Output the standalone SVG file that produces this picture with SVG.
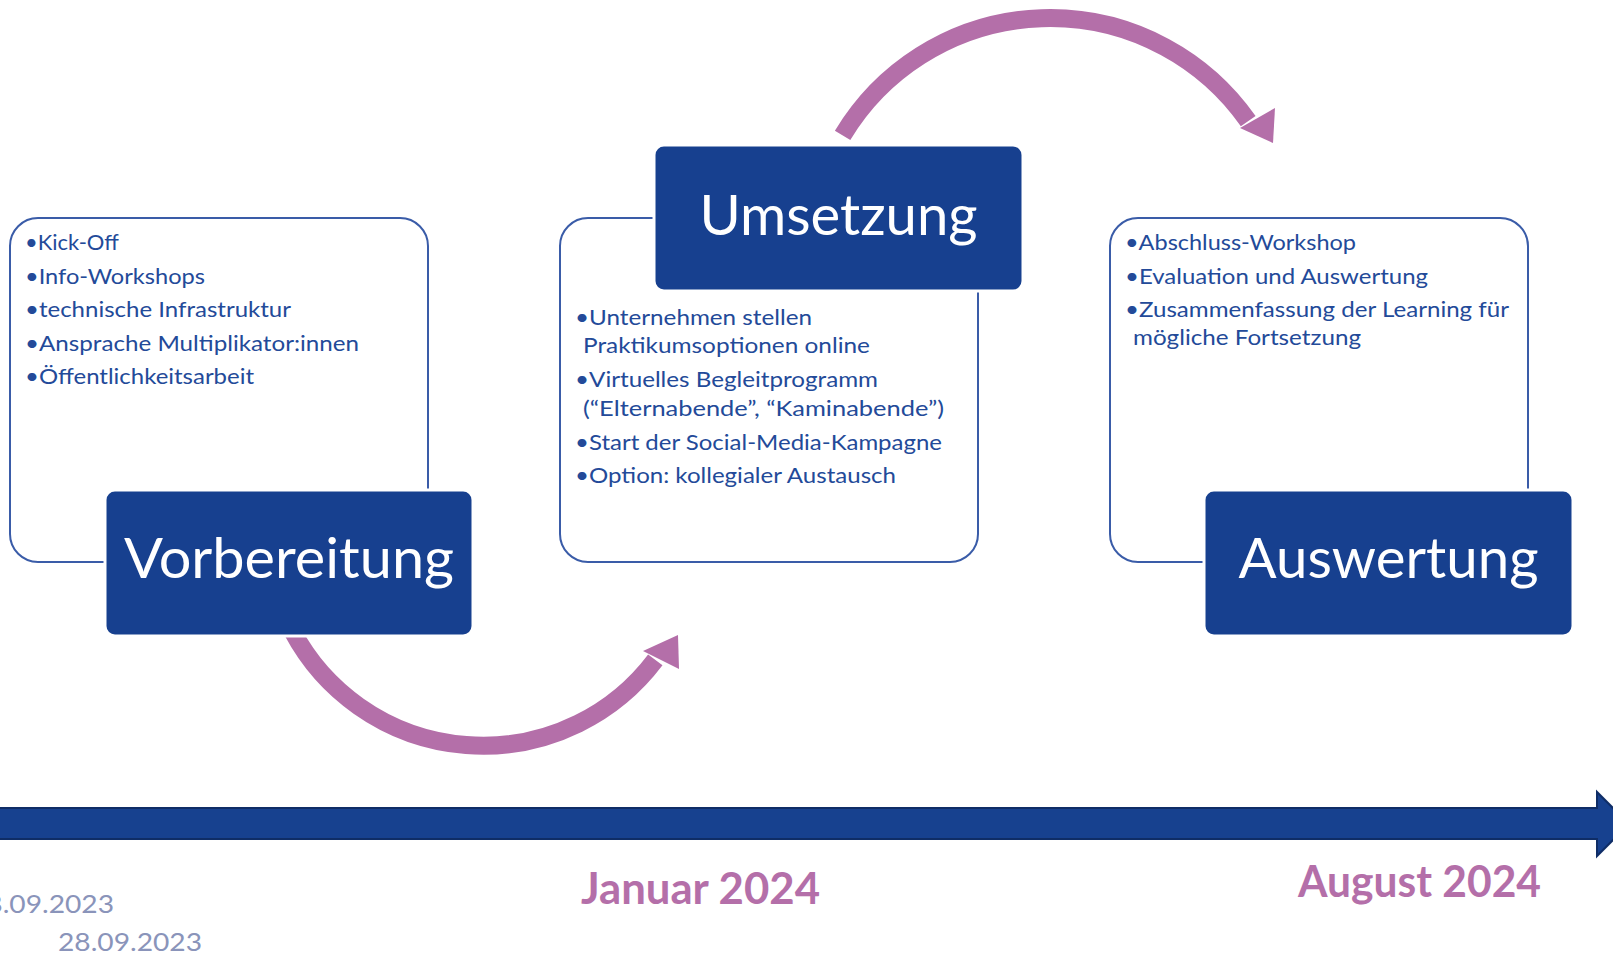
<svg xmlns="http://www.w3.org/2000/svg" width="1613" height="956" viewBox="0 0 1613 956">
<defs>
<style>
.outline{fill:#ffffff;stroke:#3a5ca8;stroke-width:2}
.head{fill:#17408f;stroke:#ffffff;stroke-width:3}
.htxt{font-family:Lato,"Open Sans",sans-serif;font-size:56px;fill:#ffffff;text-anchor:middle}
.btxt{font-family:Lato,"Open Sans",sans-serif;font-size:22px;fill:#234a99}
.arc{fill:none;stroke:#b46fa9;stroke-width:18;stroke-linecap:butt}
.arrowhead{fill:#b46fa9}
.date{font-family:Lato,"Open Sans",sans-serif;font-size:25px;fill:#8a94ba}
.month{font-family:Lato,"Open Sans",sans-serif;font-weight:bold;font-size:43px;fill:#b46fa9}
</style>
</defs>
<rect width="1613" height="956" fill="#ffffff"/>

<g id="timeline">
<polygon points="-5,808 1597,808 1597,792 1629,824 1597,856 1597,839 -5,839" fill="#17418f" stroke="#0f2d66" stroke-width="2"/>
<text class="date" x="-30" y="913" textLength="144" lengthAdjust="spacingAndGlyphs">18.09.2023</text>
<text class="date" x="58" y="951" textLength="144" lengthAdjust="spacingAndGlyphs">28.09.2023</text>
<text class="month" x="581" y="904" textLength="239" lengthAdjust="spacingAndGlyphs">Januar 2024</text>
<text class="month" x="1298" y="897" textLength="243" lengthAdjust="spacingAndGlyphs">August 2024</text>
</g>

<g id="connectors">
<path class="arc" d="M 292.6 631.3 A 215.7 215.7 0 0 0 655.3 659.8"/>
<polygon class="arrowhead" points="643,651 678,635 679,669"/>
<path class="arc" d="M 842.6 135.4 A 242 242 0 0 1 1248.2 121.2"/>
<polygon class="arrowhead" points="1240,128 1275,108 1273,143"/>
</g>

<g id="node-vorbereitung">
<rect class="outline" x="10" y="218" width="418" height="344" rx="28"/>
<text class="btxt" x="25" y="250" textLength="94" lengthAdjust="spacingAndGlyphs">•Kick-Off</text>
<text class="btxt" x="25" y="284" textLength="180" lengthAdjust="spacingAndGlyphs">•Info-Workshops</text>
<text class="btxt" x="25" y="317" textLength="266" lengthAdjust="spacingAndGlyphs">•technische Infrastruktur</text>
<text class="btxt" x="25" y="351" textLength="334" lengthAdjust="spacingAndGlyphs">•Ansprache Multiplikator:innen</text>
<text class="btxt" x="25" y="384" textLength="229" lengthAdjust="spacingAndGlyphs">•Öffentlichkeitsarbeit</text>
<rect class="head" x="105" y="490" width="368" height="146" rx="10"/>
<text class="htxt" x="289" y="578" textLength="330" lengthAdjust="spacingAndGlyphs">Vorbereitung</text>
</g>

<g id="node-umsetzung">
<rect class="outline" x="560" y="218" width="418" height="344" rx="28"/>
<text class="btxt" x="575" y="325" textLength="237" lengthAdjust="spacingAndGlyphs">•Unternehmen stellen</text>
<text class="btxt" x="583" y="353" textLength="287" lengthAdjust="spacingAndGlyphs">Praktikumsoptionen online</text>
<text class="btxt" x="575" y="387" textLength="303" lengthAdjust="spacingAndGlyphs">•Virtuelles Begleitprogramm</text>
<text class="btxt" x="583" y="416" textLength="361" lengthAdjust="spacingAndGlyphs">(“Elternabende”, “Kaminabende”)</text>
<text class="btxt" x="575" y="450" textLength="367" lengthAdjust="spacingAndGlyphs">•Start der Social-Media-Kampagne</text>
<text class="btxt" x="575" y="483" textLength="321" lengthAdjust="spacingAndGlyphs">•Option: kollegialer Austausch</text>
<rect class="head" x="654" y="145" width="369" height="146" rx="10"/>
<text class="htxt" x="838.5" y="235" textLength="278" lengthAdjust="spacingAndGlyphs">Umsetzung</text>
</g>

<g id="node-auswertung">
<rect class="outline" x="1110" y="218" width="418" height="344" rx="28"/>
<text class="btxt" x="1125" y="250" textLength="231" lengthAdjust="spacingAndGlyphs">•Abschluss-Workshop</text>
<text class="btxt" x="1125" y="284" textLength="303" lengthAdjust="spacingAndGlyphs">•Evaluation und Auswertung</text>
<text class="btxt" x="1125" y="317" textLength="384" lengthAdjust="spacingAndGlyphs">•Zusammenfassung der Learning für</text>
<text class="btxt" x="1133" y="345" textLength="228" lengthAdjust="spacingAndGlyphs">mögliche Fortsetzung</text>
<rect class="head" x="1204" y="490" width="369" height="146" rx="10"/>
<text class="htxt" x="1388.5" y="578" textLength="300" lengthAdjust="spacingAndGlyphs">Auswertung</text>
</g>
</svg>
